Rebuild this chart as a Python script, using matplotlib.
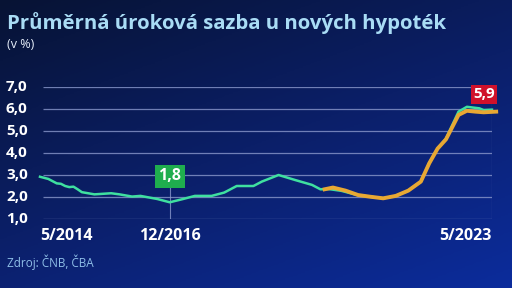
import numpy as np
import pandas as pd
import matplotlib
matplotlib.use("Agg")
import matplotlib.pyplot as plt
from matplotlib.colors import LinearSegmentedColormap
from matplotlib.transforms import blended_transform_factory

# ČNB series (green)
cnb_dates = ["2014-05", "2014-07", "2014-09", "2014-10", "2014-11", "2014-12",
             "2015-01", "2015-02", "2015-03", "2015-06", "2015-10", "2015-12",
             "2016-03", "2016-05", "2016-09", "2016-12", "2017-03", "2017-06",
             "2017-10", "2018-01", "2018-04", "2018-08", "2018-10", "2019-02",
             "2019-06", "2019-10", "2019-12", "2020-02", "2020-05", "2020-09",
             "2021-03", "2021-06", "2021-09", "2021-12", "2022-02", "2022-04",
             "2022-06", "2022-09", "2022-11", "2023-02", "2023-03", "2023-05"]
cnb_values = [2.92, 2.82, 2.62, 2.60, 2.50, 2.45,
              2.47, 2.35, 2.22, 2.12, 2.17, 2.12,
              2.02, 2.05, 1.91, 1.76, 1.90, 2.05,
              2.05, 2.20, 2.50, 2.50, 2.70, 3.00,
              2.77, 2.55, 2.35, 2.36, 2.28, 2.08,
              1.94, 2.05, 2.29, 2.70, 3.55, 4.20,
              4.65, 5.88, 6.10, 6.03, 5.95, 5.97]

# ČBA series (orange)
cba_dates = ["2020-01", "2020-03", "2020-06", "2020-09", "2020-12", "2021-03",
             "2021-06", "2021-09", "2021-12", "2022-02", "2022-04", "2022-06",
             "2022-09", "2022-11", "2023-01", "2023-03", "2023-06"]
cba_values = [2.35, 2.43, 2.29, 2.09, 2.01, 1.94,
              2.05, 2.29, 2.70, 3.53, 4.20, 4.62,
              5.73, 5.92, 5.88, 5.85, 5.88]

y_ticks = [1.0, 2.0, 3.0, 4.0, 5.0, 6.0, 7.0]
x_tick_dates = ["2014-05", "2016-12", "2023-05"]
x_tick_labels = ["5/2014", "12/2016", "5/2023"]

start = pd.Period("2014-05", freq="M")


def months(dates):
    return np.array([(pd.Period(d, freq="M") - start).n for d in dates])


cnb_x = months(cnb_dates)
cba_x = months(cba_dates)
tick_x = months(x_tick_dates)

W, H = 512, 288
fig = plt.figure(figsize=(W / 100, H / 100), dpi=100)

# background gradient
bg = fig.add_axes([0, 0, 1, 1], zorder=-10)
yy, xx = np.mgrid[0:1:200j, 0:1:360j]
t = 0.6 * yy + 0.4 * xx
cmap = LinearSegmentedColormap.from_list("bg", ["#071334", "#0b1f68", "#0c2c9c"])
bg.imshow(t, cmap=cmap, aspect="auto", extent=[0, 1, 0, 1], origin="upper")
bg.set_axis_off()

# plot area in pixels: x 40..492, y 87..219 (from top)
ax = fig.add_axes([40 / W, (H - 219) / H, (492 - 40) / W, (219 - 87) / H])
ax.set_xlim(0, 108)
ax.set_ylim(1, 7)
ax.patch.set_alpha(0)
for s in ax.spines.values():
    s.set_visible(False)
ax.set_xticks([])
ax.set_yticks([])

grid_color = "#8a98cc"
ax.hlines(y_ticks, 0.7, 108, color=grid_color, lw=0.9, alpha=0.8, zorder=1)

# marker lines
ax.vlines(tick_x[1], 1.0, 2.8, color=grid_color, lw=0.8, alpha=0.8, zorder=1)
ax.vlines(tick_x[2], 1.0, 6.6, color=grid_color, lw=0.8, alpha=0.8, zorder=1)

ax.plot(cnb_x, cnb_values, color="#3fe0a0", lw=1.8, zorder=3, clip_on=False,
        solid_joinstyle="round")
ax.plot(cba_x, cba_values, color="#e8a833", lw=2.8, zorder=4, clip_on=False,
        solid_joinstyle="round")

font = "Open Sans"

# value labels
ax.text(tick_x[1], 2.95, "1,8", color="white", fontsize=11.5, fontweight="bold",
        family=font, ha="center", va="center", zorder=6,
        bbox=dict(boxstyle="square,pad=0.22", fc="#1fae4e", ec="none"))
ax.text(106.1, 6.66, "5,9", color="white", fontsize=11, fontweight="bold",
        family=font, ha="center", va="center", zorder=6,
        bbox=dict(boxstyle="square,pad=0.15", fc="#d0112b", ec="none"))

# y tick labels
ytr = blended_transform_factory(fig.transFigure, ax.transData)
for v in y_ticks:
    ax.text(6 / W, v, f"{v:.1f}".replace(".", ","), transform=ytr, color="white",
            fontsize=11, fontweight="bold", family=font, ha="left", va="center")

# x tick labels
xtr = blended_transform_factory(ax.transData, fig.transFigure)
aligns = ["left", "center", "right"]
for xv, lab, al in zip(tick_x, x_tick_labels, aligns):
    ax.text(xv, 1 - 236 / H, lab, transform=xtr, color="white", fontsize=11.5,
            fontweight="bold", family=font, ha=al, va="center")

fig.text(7 / W, 1 - 23 / H, "Průměrná úroková sazba u nových hypoték",
         color="#a9dcf5", fontsize=14.7, fontweight="bold", family=font,
         ha="left", va="center")
fig.text(7 / W, 1 - 44 / H, "(v %)", color="#e6eefa", fontsize=9,
         family=font, ha="left", va="center")
fig.text(7 / W, 1 - 262 / H, "Zdroj: ČNB, ČBA", color="#8fbfe8", fontsize=8.5,
         family=font, ha="left", va="center")

fig.savefig("out.png", dpi=100)
